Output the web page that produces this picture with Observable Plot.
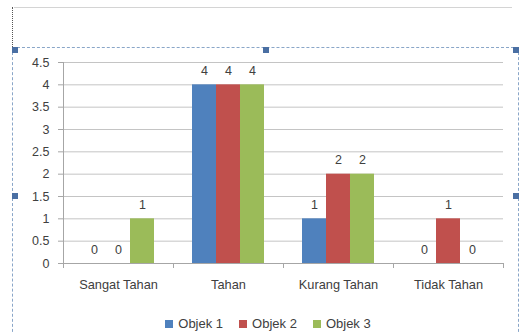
<!DOCTYPE html>
<html><head><meta charset="utf-8">
<script src="https://cdn.jsdelivr.net/npm/d3@7"></script>
<script src="https://cdn.jsdelivr.net/npm/@observablehq/plot@0.6"></script>
<style>
body{margin:0;background:#fff;}
#wrap{position:relative;width:520px;height:333px;overflow:hidden;font-family:"Liberation Sans",Arial,sans-serif;color:#404040;}
#chart{position:absolute;left:0;top:0;}
.deco{position:absolute;box-sizing:border-box;}
.handle{position:absolute;width:6px;height:6px;background:#4a6fa3;}
#legend{position:absolute;left:0;width:536px;top:316px;display:flex;justify-content:center;gap:16px;font-size:13px;}
#legend .item{display:flex;align-items:center;gap:5px;}
#legend .sw{width:8px;height:8px;display:inline-block;}
</style></head><body>
<div id="wrap">
  <div class="deco" style="left:14px;top:7px;width:498px;height:0;border-top:1px solid #d4d4d4;"></div>
  <div class="deco" style="left:12px;top:7px;width:0;height:40px;border-left:1px dotted #555;"></div>
  <div class="deco" style="left:12px;top:47px;width:507px;height:300px;border:1px dashed #8aa6c8;"></div>
  <div id="chart"></div>
  <div id="legend"></div>
  <div class="handle" style="left:12px;top:47px;"></div>
  <div class="handle" style="left:263px;top:47px;"></div>
  <div class="handle" style="left:513px;top:47px;"></div>
  <div class="handle" style="left:12px;top:193px;"></div>
  <div class="handle" style="left:513px;top:193px;"></div>
</div>
<script>
const categories = ["Sangat Tahan", "Tahan", "Kurang Tahan", "Tidak Tahan"];
const series = ["Objek 1", "Objek 2", "Objek 3"];
const objek1 = [0, 4, 1, 0];
const objek2 = [0, 4, 2, 1];
const objek3 = [1, 4, 2, 0];
const colors = ["#4F81BD", "#C0504D", "#9BBB59"];
const yTicks = [0, 0.5, 1, 1.5, 2, 2.5, 3, 3.5, 4, 4.5];

const seriesValues = [objek1, objek2, objek3];
const data = categories.flatMap((c, i) =>
  seriesValues.map((vals, j) => ({category: c, series: series[j], value: vals[i]})));

const plot = Plot.plot({
  width: 520, height: 300,
  marginLeft: 63, marginRight: 17, marginTop: 62, marginBottom: 37,
  style: {fontFamily: '"Liberation Sans", Arial, sans-serif', fontSize: "12px", color: "#404040", background: "transparent", overflow: "visible"},
  fx: {domain: categories, paddingInner: 0, paddingOuter: 0, label: null},
  x: {domain: series, paddingInner: 0, paddingOuter: 0.79, axis: null},
  y: {domain: [0, 4.5], label: null},
  color: {domain: series, range: colors},
  marks: [
    Plot.gridY(yTicks, {stroke: "#c4c4c4", strokeOpacity: 1}),
    Plot.barY(data, {fx: "category", x: "series", y: "value", fill: "series"}),
    Plot.text(data, {fx: "category", x: "series", y: "value", text: d => String(d.value), dy: -14, fill: "#404040", fontSize: 12.5}),
    Plot.ruleY([0], {stroke: "#a6a6a6"}),
    Plot.axisY({ticks: yTicks, tickSize: 5, tickPadding: 9, tickFormat: d => String(d), label: null, stroke: "#a6a6a6", fill: "#404040", fontSize: 12.5}),
    Plot.axisFx({anchor: "bottom", tickSize: 0, tickPadding: 16, label: null, fill: "#404040", fontSize: 12.8})
  ]
});
document.getElementById("chart").appendChild(plot);

// y axis line and category boundary ticks, placed with the plot's own scales
const fx = plot.scale("fx"), y = plot.scale("y");
const svg = d3.select(plot);
const y0 = y.apply(0), yTop = y.apply(4.5);
const bounds = categories.map(c => fx.apply(c)).concat([fx.apply(categories[categories.length - 1]) + fx.bandwidth]);
const g = svg.append("g").attr("stroke", "#a6a6a6");
g.append("line").attr("x1", bounds[0] + 0.5).attr("x2", bounds[0] + 0.5).attr("y1", yTop).attr("y2", y0);
bounds.forEach(b => g.append("line").attr("x1", b + 0.5).attr("x2", b + 0.5).attr("y1", y0).attr("y2", y0 + 5));

// legend
const legend = d3.select("#legend");
series.forEach((s, i) => {
  const it = legend.append("div").attr("class", "item");
  it.append("span").attr("class", "sw").style("background", colors[i]);
  it.append("span").text(s);
});
</script>
</body></html>
